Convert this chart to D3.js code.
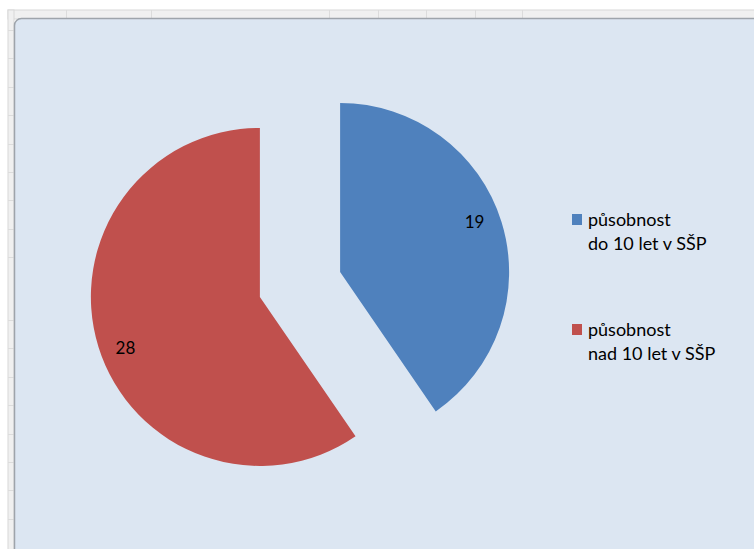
<!DOCTYPE html>
<html><head><meta charset="utf-8">
<script src="https://cdn.jsdelivr.net/npm/d3@7"></script>
<style>html,body{margin:0;padding:0;background:#fff;overflow:hidden}</style>
</head><body>
<svg id="c" width="754" height="549"></svg>
<script>
const categories = ["působnost\ndo 10 let v SŠP", "působnost\nnad 10 let v SŠP"];
const values = [19, 28];
const colors = ["#4f81bd", "#c0504d"];

const svg = d3.select("#c");
const W = 754, H = 549;

// spreadsheet frame remnants
svg.append("rect").attr("x",0).attr("y",0).attr("width",W).attr("height",H).attr("fill","#ffffff");
svg.append("rect").attr("x",8).attr("y",10).attr("width",W).attr("height",9).attr("fill","#f0f0f0").attr("stroke","#d8d8d8");
svg.append("rect").attr("x",8).attr("y",10).attr("width",6).attr("height",H).attr("fill","#f0f0f0").attr("stroke","#d8d8d8");
[66,151,329,378,426,475,522].forEach(x=>svg.append("line").attr("x1",x+0.5).attr("x2",x+0.5).attr("y1",10).attr("y2",18).attr("stroke","#dcdcdc"));
[30,58,87,115,144,172,200,229,257,320,348,377,405,434,462,490,519].forEach(y=>svg.append("line").attr("x1",8).attr("x2",14).attr("y1",y+0.5).attr("y2",y+0.5).attr("stroke","#dcdcdc"));

// chart area
svg.append("rect").attr("x",14.5).attr("y",18.5).attr("width",W+20).attr("height",H+20)
  .attr("rx",7).attr("fill","#dce6f2").attr("stroke","#9ea4ab").attr("stroke-width",1.5);

// pie
const cx = 300, cy = 284.5, r = 169, explode = 42;
const pie = d3.pie().sort(null)(values);
const arc = d3.arc().innerRadius(0).outerRadius(r);
const g = svg.append("g").attr("transform",`translate(${cx},${cy})`);
pie.forEach((d,i)=>{
  const mid = (d.startAngle+d.endAngle)/2;
  const dx = explode*Math.sin(mid), dy = -explode*Math.cos(mid);
  const sg = g.append("g").attr("transform",`translate(${dx},${dy})`);
  sg.append("path").attr("d",arc(d)).attr("fill",colors[i]);
  const lr = r*0.85;
  const la = mid - 0.06;
  sg.append("text").attr("x", lr*Math.sin(la)).attr("y", -lr*Math.cos(la))
    .attr("text-anchor","middle").attr("dominant-baseline","central")
    .attr("font-family","Lato, 'Open Sans', sans-serif").attr("font-size",17).attr("fill","#000")
    .text(values[i]);
});

// legend
const legY = [214, 324];
categories.forEach((c,i)=>{
  svg.append("rect").attr("x",572).attr("y",legY[i]).attr("width",10).attr("height",11).attr("fill",colors[i]);
  const t = svg.append("text").attr("x",588).attr("y",legY[i]+12)
    .attr("font-family","Lato, 'Open Sans', sans-serif").attr("font-size",18).attr("fill","#000");
  c.split("\n").forEach((line,j)=>t.append("tspan").attr("x",588).attr("dy", j===0?0:23.5).text(line));
});
</script>
</body></html>
